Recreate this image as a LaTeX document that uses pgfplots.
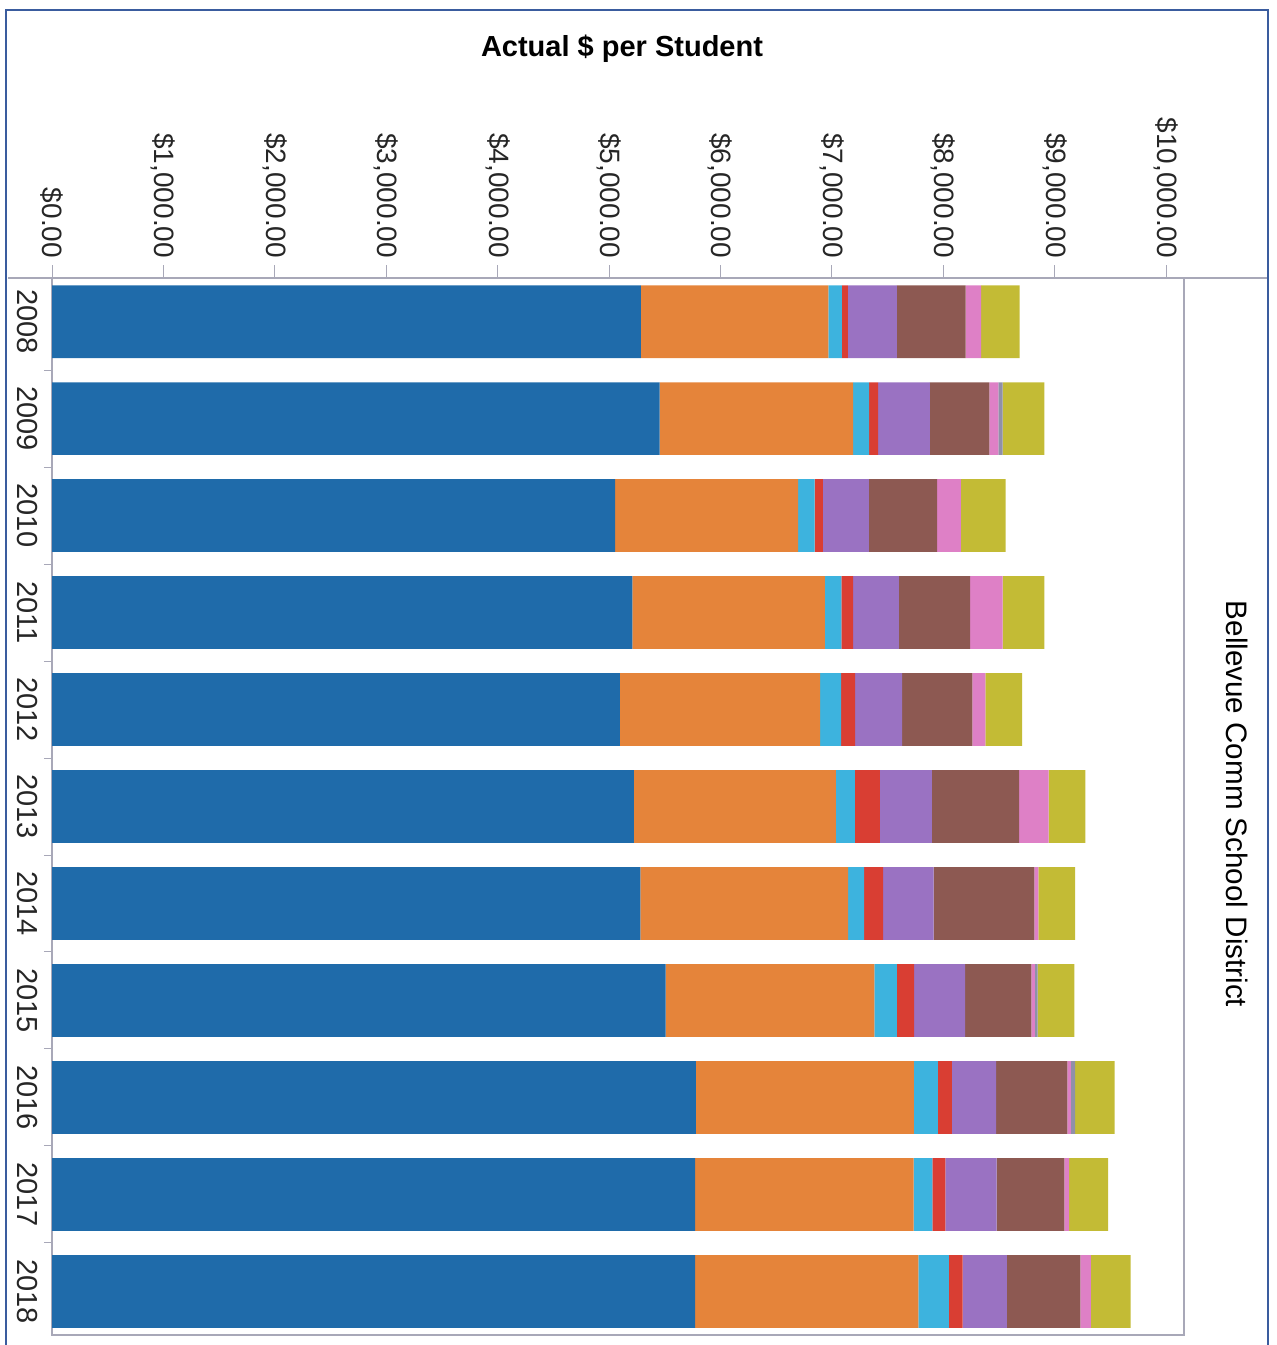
\documentclass[border=0pt]{standalone}
\usepackage{fontspec}
\setmainfont{Liberation Sans}
\usepackage{pgfplots}
\usepackage{pgfplotstable}
\pgfplotsset{compat=1.18}
\definecolor{cblue}{HTML}{1F6BAA}
\definecolor{corange}{HTML}{E5843A}
\definecolor{ccyan}{HTML}{3DB3DE}
\definecolor{cred}{HTML}{D93E33}
\definecolor{cpurple}{HTML}{9A72C2}
\definecolor{cbrown}{HTML}{8D5952}
\definecolor{cpink}{HTML}{DE80C6}
\definecolor{cgray}{HTML}{9090A8}
\definecolor{colive}{HTML}{C3BB35}
\definecolor{axgray}{HTML}{A8A8B8}
\definecolor{framecol}{HTML}{3A5C9E}
\pgfplotstableread{
idx blue orange cyan red purple brown pink gray olive
0 5285 1684 120 54 441 615 140 0 345
1 5454 1736 144 81 465 533 81 38 375
2 5054 1643 147 74 414 612 213 0 401
3 5210 1726 148 107 411 638 291 0 375
4 5097 1796 189 126 422 630 117 0 330
5 5222 1813 171 225 465 785 264 0 329
6 5281 1864 145 170 453 904 37 0 329
7 5508 1873 202 154 459 595 30 25 331
8 5779 1957 216 125 396 640 32 37 356
9 5773 1961 167 118 459 609 41 0 352
10 5772 2003 274 123 399 660 93 0 356
}\datatable
\begin{document}
\begin{tikzpicture}
\path[use as bounding box] (0pt,0pt) rectangle (638.5pt,-672.5pt);
\begin{axis}[
  at={(26pt,-139pt)}, anchor=north west,
  scale only axis, width=566pt, height=528.5pt,
  xbar stacked, bar width=0.75,
  xmin=0, xmax=10160, ymin=-0.45, ymax=10.45, y dir=reverse,
  scaled x ticks=false,
  xtick={0,1000,...,10000},
  xticklabels={{\$0.00},{\$1,000.00},{\$2,000.00},{\$3,000.00},{\$4,000.00},{\$5,000.00},{\$6,000.00},{\$7,000.00},{\$8,000.00},{\$9,000.00},{\$10,000.00}},
  xtick pos=upper, xticklabel pos=upper,
  tick align=outside,
  ytick={0,...,10},
  yticklabels={2008,2009,2010,2011,2012,2013,2014,2015,2016,2017,2018},
  ytick pos=left,
  minor ytick={-0.5,0.5,...,10.5},
  major y tick style={draw=none},
  minor tick length=4pt,
  major tick length=6.5pt,
  tick style={axgray, line width=0.5pt},
  axis line style={axgray, line width=0.6pt},
  xticklabel style={rotate=-90, anchor=east, font=\fontsize{14}{16}\selectfont, text=black!85},
  yticklabel style={rotate=-90, anchor=north, yshift=3pt, font=\fontsize{14.5}{16}\selectfont, text=black!85},
  every axis plot/.append style={draw=none},
  clip=false,
]
\addplot[fill=cblue] table[x=blue,y=idx]{\datatable};
\addplot[fill=corange] table[x=orange,y=idx]{\datatable};
\addplot[fill=ccyan] table[x=cyan,y=idx]{\datatable};
\addplot[fill=cred] table[x=red,y=idx]{\datatable};
\addplot[fill=cpurple] table[x=purple,y=idx]{\datatable};
\addplot[fill=cbrown] table[x=brown,y=idx]{\datatable};
\addplot[fill=cpink] table[x=pink,y=idx]{\datatable};
\addplot[fill=cgray] table[x=gray,y=idx]{\datatable};
\addplot[fill=colive] table[x=olive,y=idx]{\datatable};
\end{axis}
\draw[axgray, line width=0.6pt] (4pt,-139pt) -- (634pt,-139pt);
\draw[framecol, line width=1.2pt] (3pt,-672.5pt) -- (3pt,-5pt) -- (634pt,-5pt) -- (634pt,-672.5pt);
\node[font=\bfseries\fontsize{14.5}{16}\selectfont] at (311pt,-24.5pt) {Actual \$ per Student};
\node[rotate=-90, font=\fontsize{14.8}{16}\selectfont] at (618.5pt,-402pt) {Bellevue Comm School District};
\end{tikzpicture}
\end{document}
